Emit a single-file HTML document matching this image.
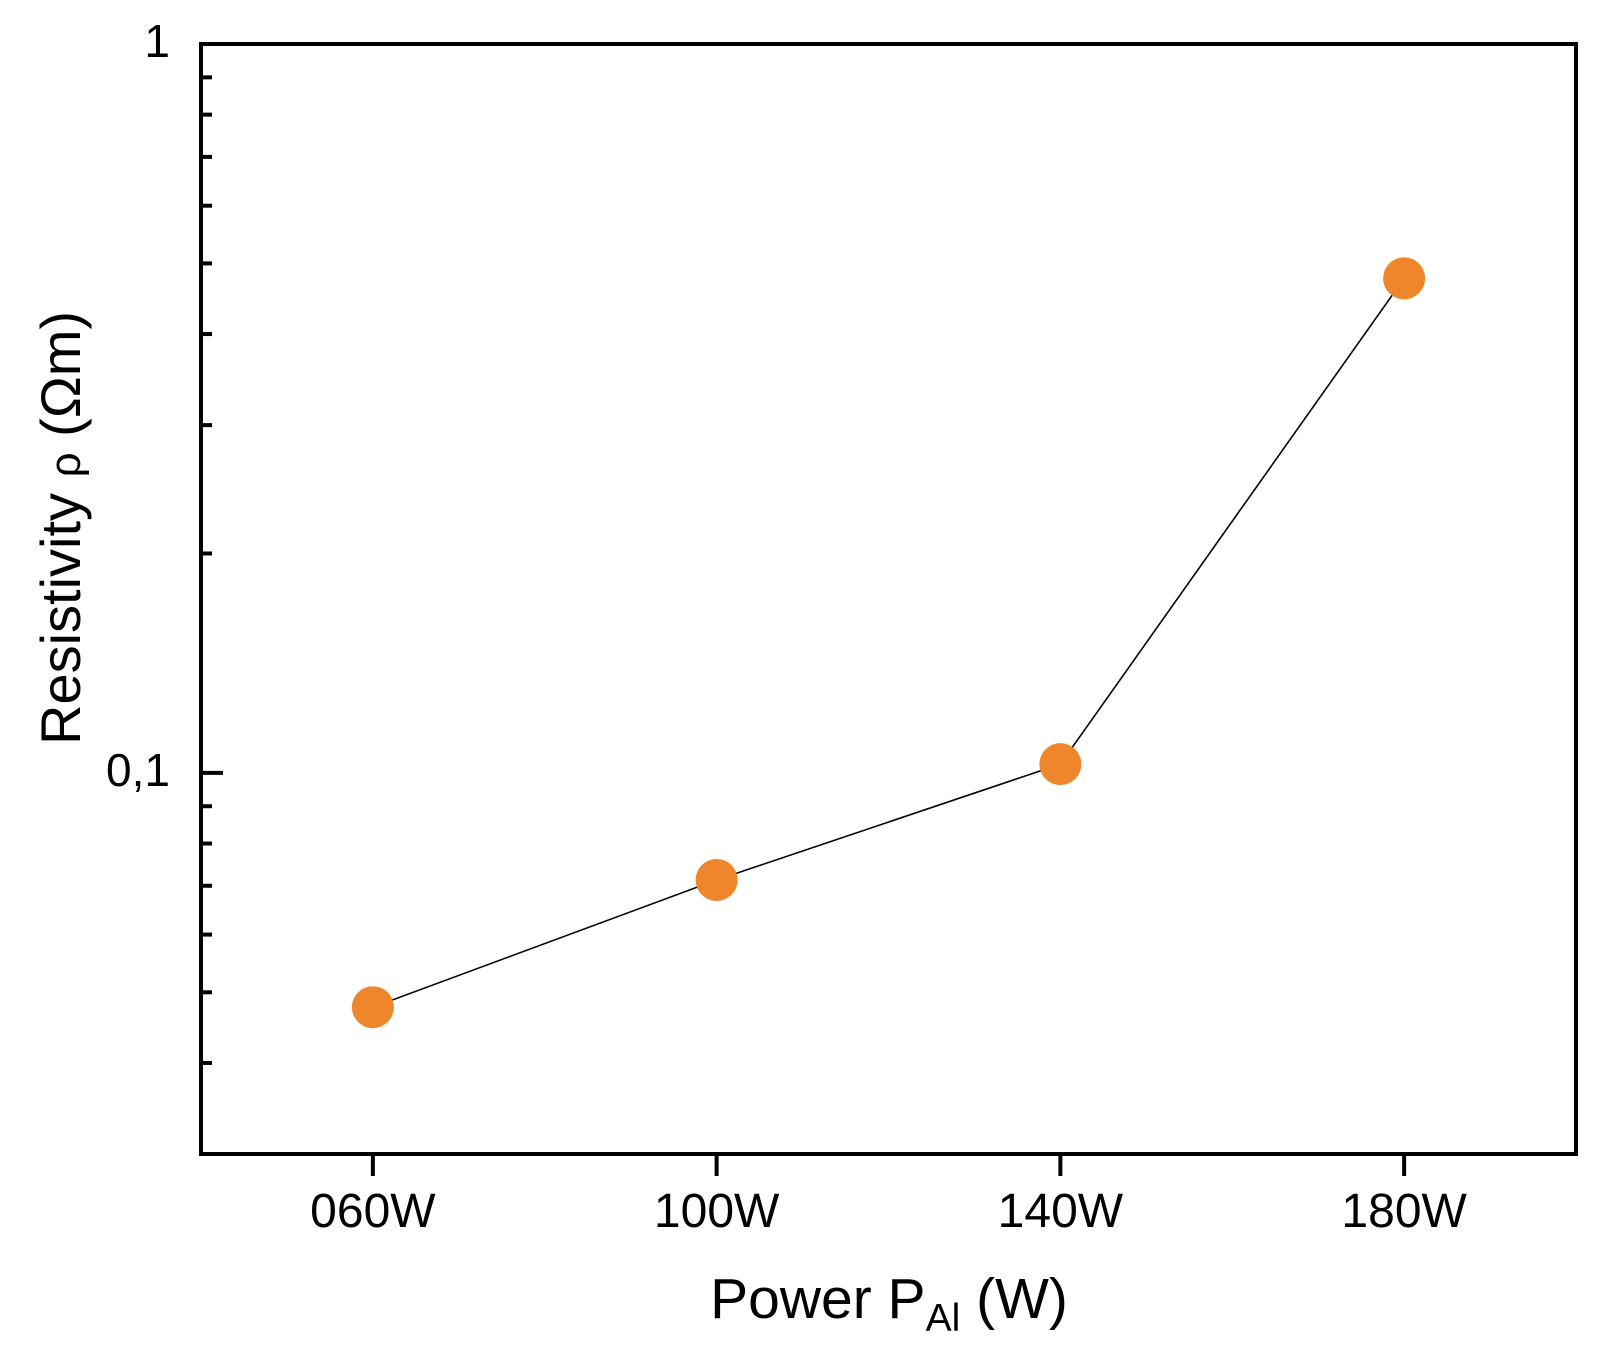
<!DOCTYPE html>
<html><head><meta charset="utf-8"><style>
html,body{margin:0;padding:0;background:#fff}
svg{display:block}
text{font-family:"Liberation Sans",Arial,sans-serif;fill:#000}
</style></head><body>
<svg id="chart" width="1606" height="1358" viewBox="0 0 1606 1358" xmlns="http://www.w3.org/2000/svg">
<g id="axes"></g>
<g id="series"></g>
<text x="889" y="1318" font-size="57" text-anchor="middle">Power P<tspan font-size="39" dy="13">Al</tspan><tspan dy="-13"> (W)</tspan></text>
<text transform="translate(80,528) rotate(-90)" font-size="56" text-anchor="middle">Resistivity <tspan font-size="44">ρ</tspan> (Ωm)</text>
</svg>
<script>
const categories = ["060W","100W","140W","180W"];
const resistivity = [0.0477, 0.0713, 0.1028, 0.477];
const yMajorTicks = [0.1, 1];
const yMajorLabels = ["0,1", "1"];
const yMinorTicks = [0.04,0.05,0.06,0.07,0.08,0.09,0.2,0.3,0.4,0.5,0.6,0.7,0.8,0.9];

const L=201, R=1576, T=44, B=1154;
const yMin=0.03, yMax=1;
function yScale(v){ return B - (Math.log10(v)-Math.log10(yMin))/(Math.log10(yMax)-Math.log10(yMin))*(B-T); }
function xScale(i){ return L + (i+0.5)*(R-L)/categories.length; }
const NS="http://www.w3.org/2000/svg";
function mk(tag, attrs, parent){ const e=document.createElementNS(NS,tag); for(const k in attrs) e.setAttribute(k,attrs[k]); parent.appendChild(e); return e; }
const axes=document.getElementById('axes'), series=document.getElementById('series');

const frame=mk('rect',{x:L,y:T,width:R-L,height:B-T,fill:'none',stroke:'#000','stroke-width':4},axes);



yMajorTicks.forEach((v,i)=>{
  const y=yScale(v);
  const t=mk('line',{x1:L,x2:L+22,y1:y,y2:y,stroke:'#000','stroke-width':4},axes);
  
  
  const lb=mk('text',{x:170,y:y+13,'font-size':46,'text-anchor':'end'},axes);
  lb.textContent=yMajorLabels[i];
  
  
});
yMinorTicks.forEach(v=>{
  const y=yScale(v);
  const t=mk('line',{x1:L,x2:L+11,y1:y,y2:y,stroke:'#000','stroke-width':4},axes);
  
  
});
categories.forEach((c,i)=>{
  const x=xScale(i);
  const t=mk('line',{x1:x,x2:x,y1:B,y2:B+22,stroke:'#000','stroke-width':4},axes);
  
  
  const lb=mk('text',{x:x,y:1227,'font-size':48,'text-anchor':'middle'},axes);
  lb.textContent=c;
  
  
});
const pts=resistivity.map((v,i)=>xScale(i)+','+yScale(v)).join(' ');
const line=mk('polyline',{points:pts,fill:'none',stroke:'#000','stroke-width':1.6},series);


resistivity.forEach((v,i)=>{
  const c=mk('circle',{cx:xScale(i),cy:yScale(v),r:21,fill:'#f0862b'},series);
  
  
});
</script>
</body></html>
